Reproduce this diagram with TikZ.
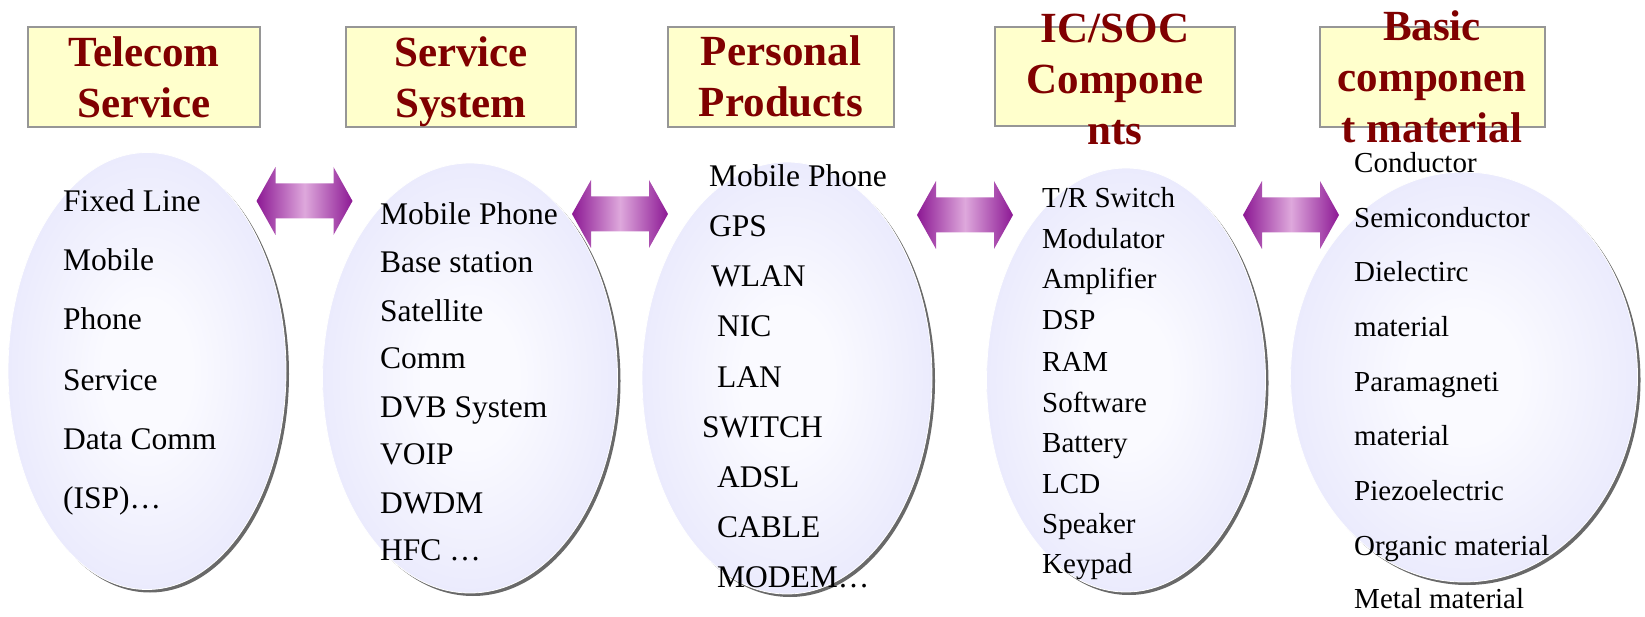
\documentclass[tikz,border=0pt]{standalone}
\usepackage{fontspec}
\setmainfont{Liberation Serif}
\usetikzlibrary{shapes.geometric, shadows}

\definecolor{hdrred}{RGB}{128,0,0}
\definecolor{hdrfill}{RGB}{255,255,204}
\definecolor{hdrline}{RGB}{150,150,150}
\definecolor{blobin}{RGB}{250,250,255}
\definecolor{blobout}{RGB}{220,220,250}
\definecolor{arrowdark}{RGB}{140,24,148}
\definecolor{arrowlight}{RGB}{222,168,220}

\pgfdeclareradialshading{blobshade}{\pgfpoint{0bp}{0bp}}{color(0bp)=(blobin); color(8bp)=(blobin); color(42bp)=(blobout); color(50bp)=(blobout)}

\tikzset{
  dblarrow/.pic={
    \path[left color=arrowdark, right color=arrowdark, middle color=arrowlight]
      (-48,0) -- (-29,-34) -- (-29,-17.5) -- (29,-17.5) -- (29,-34) -- (48,0)
      -- (29,34) -- (29,17.5) -- (-29,17.5) -- (-29,34) -- cycle;
  }
}

\begin{document}
\begin{tikzpicture}[x=1pt, y=-1pt,
    hdrbox/.style={draw=hdrline, line width=2pt, fill=hdrfill, inner sep=0pt},
    hdrtext/.style={text=hdrred, font=\fontsize{43}{51}\selectfont\bfseries, align=center, inner sep=0pt, anchor=base},
    blob/.style={ellipse, inner sep=0pt, draw=white, line width=0.8pt, shade, shading=blobshade,
      drop shadow={shadow xshift=3pt, shadow yshift=-3pt, fill=black!65, opacity=0.9}},
    itembig/.style={font=\fontsize{31.5}{38}\selectfont, inner sep=0pt, anchor=base west},
    itemsmall/.style={font=\fontsize{29}{35}\selectfont, inner sep=0pt, anchor=base west}]
\useasboundingbox (0,0) rectangle (1645,617);

% header boxes
\node[hdrbox, minimum width=232pt, minimum height=100pt] (box1) at (144,77) {};
\node[hdrbox, minimum width=230pt, minimum height=100pt] (box2) at (461,77) {};
\node[hdrbox, minimum width=226pt, minimum height=100pt] (box3) at (781,77) {};
\node[hdrbox, minimum width=240pt, minimum height=99pt] (box4) at (1115,76.5) {};
\node[hdrbox, minimum width=225pt, minimum height=100pt] (box5) at (1432.5,77) {};

% titles (base = last line)
\node[hdrtext] (head1) at (144,118) {Telecom\\Service};
\node[hdrtext] (head2) at (461,118) {Service\\System};
\node[hdrtext] (head3) at (781,117) {Personal\\Products};
\node[hdrtext] (head4) at (1115,145) {IC/SOC\\Compone\\nts};
\node[hdrtext] (head5) at (1432,143) {Basic\\componen\\t material};

% ellipses
\node[blob, minimum width=278pt, minimum height=437pt] (blob1) at (147,371) {};
\node[blob, minimum width=295pt, minimum height=430pt] (blob2) at (470,378) {};
\node[blob, minimum width=290pt, minimum height=432pt] (blob3) at (787,378) {};
\node[blob, minimum width=279pt, minimum height=424pt] (blob4) at (1126,380) {};
\node[blob, minimum width=347pt, minimum height=410pt] (blob5) at (1464,377) {};

% arrows
\pic (arr1) at (304.5,201) {dblarrow};
\pic (arr2) at (620,214) {dblarrow};
\pic (arr3) at (965,215) {dblarrow};
\pic (arr4) at (1291,215) {dblarrow};

% telecom service
\node[itembig] (svc1) at (63,212) {Fixed Line};
\node[itembig] (svc2) at (63,271) {Mobile};
\node[itembig] (svc3) at (63,330) {Phone};
\node[itembig] (svc4) at (63,390) {Service};
\node[itembig] (svc5) at (63,449) {Data Comm};
\node[itembig] (svc6) at (63,508) {(ISP)…};

% service system
\node[itembig] (sys1) at (380,225) {Mobile Phone};
\node[itembig] (sys2) at (380,273) {Base station};
\node[itembig] (sys3) at (380,322) {Satellite};
\node[itembig] (sys4) at (380,368) {Comm};
\node[itembig] (sys5) at (380,417) {DVB System};
\node[itembig] (sys6) at (380,464) {VOIP};
\node[itembig] (sys7) at (380,513) {DWDM};
\node[itembig] (sys8) at (380,560) {HFC …};

% personal products
\node[itembig] (prd1) at (709,187) {Mobile Phone};
\node[itembig] (prd2) at (709,237) {GPS};
\node[itembig] (prd3) at (711,287) {WLAN};
\node[itembig] (prd4) at (717,337) {NIC};
\node[itembig] (prd5) at (717,387) {LAN};
\node[itembig] (prd6) at (702,437) {SWITCH};
\node[itembig] (prd7) at (717,487) {ADSL};
\node[itembig] (prd8) at (717,537) {CABLE};
\node[itembig] (prd9) at (717,587) {MODEM…};

% IC/SOC components
\node[itemsmall] (ic1) at (1042,208) {T/R Switch};
\node[itemsmall] (ic2) at (1042,249) {Modulator};
\node[itemsmall] (ic3) at (1042,289) {Amplifier};
\node[itemsmall] (ic4) at (1042,330) {DSP};
\node[itemsmall] (ic5) at (1042,371) {RAM};
\node[itemsmall] (ic6) at (1042,412) {Software};
\node[itemsmall] (ic7) at (1042,452) {Battery};
\node[itemsmall] (ic8) at (1042,493) {LCD};
\node[itemsmall] (ic9) at (1042,533) {Speaker};
\node[itemsmall] (ic10) at (1042,573) {Keypad};

% basic component material
\node[itemsmall] (mat1) at (1354,173) {Conductor};
\node[itemsmall] (mat2) at (1354,228) {Semiconductor};
\node[itemsmall] (mat3) at (1354,282) {Dielectirc};
\node[itemsmall] (mat4) at (1354,336) {material};
\node[itemsmall] (mat5) at (1354,391) {Paramagneti};
\node[itemsmall] (mat6) at (1354,445) {material};
\node[itemsmall] (mat7) at (1354,500) {Piezoelectric};
\node[itemsmall] (mat8) at (1354,555) {Organic material};
\node[itemsmall] (mat9) at (1354,608) {Metal material};
\end{tikzpicture}
\end{document}
